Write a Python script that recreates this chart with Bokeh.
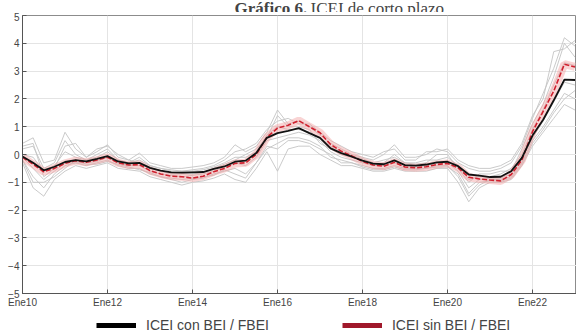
from bokeh.plotting import figure
from bokeh.layouts import column
from bokeh.models import Range1d, FixedTicker, Label, Legend, LegendItem
from bokeh.embed import file_html
from bokeh.resources import INLINE

# Quarterly observations, Jan 2010 - Jan 2023
fechas = [f"{a}-{m:02d}" for a in range(2010, 2023) for m in (1, 4, 7, 10)] + ["2023-01"]

# ICEI including BEI / FBEI
icei_con = [-0.07, -0.30, -0.57, -0.44, -0.27, -0.20, -0.25, -0.16, -0.06, -0.25,
            -0.32, -0.30, -0.48, -0.58, -0.64, -0.65, -0.64, -0.63, -0.52, -0.43,
            -0.26, -0.22, 0.05, 0.60, 0.77, 0.85, 0.95, 0.77, 0.60, 0.22,
            0.05, -0.08, -0.22, -0.33, -0.35, -0.21, -0.38, -0.40, -0.36, -0.28,
            -0.26, -0.42, -0.72, -0.76, -0.81, -0.80, -0.60, -0.12, 0.68, 1.25,
            1.95, 2.69, 2.68]

# ICEI excluding BEI / FBEI
icei_sin = [-0.10, -0.35, -0.62, -0.50, -0.32, -0.22, -0.28, -0.20, -0.10, -0.30,
            -0.38, -0.36, -0.58, -0.70, -0.78, -0.80, -0.85, -0.78, -0.62, -0.50,
            -0.32, -0.30, 0.00, 0.62, 0.95, 1.05, 1.22, 1.00, 0.78, 0.36,
            0.12, -0.05, -0.25, -0.38, -0.42, -0.28, -0.45, -0.48, -0.44, -0.36,
            -0.32, -0.48, -0.82, -0.88, -0.92, -0.95, -0.72, -0.20, 0.82, 1.55,
            2.28, 3.25, 3.15]

# Individual indicators
ind_1 = [0.4, 0.6, -0.3, -0.2, 0.8, 0.2, -0.1, 0.1, 0.35, -0.1, -0.2, 0.05, -0.3,
         -0.4, -0.5, -0.5, -0.45, -0.4, -0.3, -0.1, 0.35, 0.1, 0.3, 0.8, 1.6, 1.1,
         1.2, 1.0, 0.7, 0.4, 0.2, 0.0, -0.1, -0.2, 0.0, 0.35, -0.1, -0.1, 0.0, 0.2,
         0.1, -0.3, -0.5, -0.6, -0.6, -0.5, -0.3, 0.3, 1.3, 2.2, 3.1, 4.2, 3.9]
ind_2 = [-0.3, -1.2, -1.5, -0.9, -0.6, -0.4, -0.5, -0.4, -0.3, -0.5, -0.55, -0.6,
         -0.8, -0.9, -1.0, -1.1, -1.0, -0.95, -0.85, -0.7, -0.9, -1.0, -0.5, 0.1,
         -0.6, 0.2, 0.3, 0.3, 0.0, -0.2, -0.4, -0.4, -0.5, -0.6, -0.6, -0.5, -0.6,
         -0.6, -0.6, -0.5, -0.5, -1.0, -1.7, -1.2, -1.0, -1.0, -0.9, -0.4, 0.3, 0.8,
         1.3, 1.8, 1.6]
ind_3 = [0.2, 0.3, -0.5, -0.3, 0.5, 0.0, -0.2, 0.0, 0.2, -0.2, -0.3, -0.1, -0.4,
         -0.5, -0.55, -0.6, -0.55, -0.5, -0.4, -0.2, 0.1, 0.2, 0.4, 0.9, 1.2, 1.3,
         1.1, 1.1, 0.8, 0.5, 0.3, 0.1, 0.0, -0.1, 0.1, 0.2, -0.2, -0.2, 0.1, 0.1,
         0.2, -0.2, -0.4, -0.5, -0.5, -0.4, -0.2, 0.4, 1.4, 2.0, 3.7, 3.8, 4.1]
ind_4 = [-0.2, -0.8, -1.2, -0.7, -0.4, -0.3, -0.4, -0.3, -0.2, -0.4, -0.5, -0.5,
         -0.7, -0.8, -0.9, -1.0, -0.9, -0.85, -0.7, -0.6, -0.5, -0.7, -0.3, 0.3,
         0.2, 0.5, 0.5, 0.4, 0.2, 0.0, -0.3, -0.3, -0.4, -0.5, -0.5, -0.4, -0.5,
         -0.5, -0.5, -0.4, -0.4, -0.8, -1.5, -1.1, -0.9, -0.9, -0.8, -0.3, 0.5, 1.0,
         1.6, 2.2, 2.0]
ind_5 = [0.0, -0.1, -0.6, -0.4, 0.1, -0.1, -0.2, -0.1, 0.1, -0.2, -0.3, -0.2, -0.4,
         -0.5, -0.6, -0.6, -0.6, -0.55, -0.45, -0.3, -0.1, -0.1, 0.1, 0.7, 1.0, 0.9,
         0.9, 0.8, 0.6, 0.3, 0.1, -0.05, -0.15, -0.3, -0.2, -0.1, -0.3, -0.3, -0.2,
         -0.2, -0.1, -0.4, -0.9, -0.8, -0.8, -0.7, -0.5, 0.0, 0.9, 1.6, 2.5, 3.3, 3.2]
ind_6 = [-0.1, -0.5, -0.9, -0.6, -0.3, -0.3, -0.3, -0.25, -0.1, -0.3, -0.4, -0.4,
         -0.6, -0.7, -0.75, -0.8, -0.75, -0.7, -0.6, -0.45, -0.3, -0.4, -0.1, 0.5,
         0.6, 0.7, 0.8, 0.7, 0.5, 0.1, -0.1, -0.2, -0.3, -0.4, -0.4, -0.3, -0.45,
         -0.45, -0.4, -0.3, -0.3, -0.6, -1.2, -0.9, -0.85, -0.85, -0.7, -0.2, 0.6,
         1.2, 1.9, 2.6, 2.5]
ind_7 = [0.3, 0.4, -0.8, -0.5, 0.3, 0.4, -0.1, 0.2, 0.3, 0.0, -0.2, -0.3, -0.5,
         -0.6, -0.7, -0.7, -0.7, -0.65, -0.5, -0.35, -0.2, 0.0, 0.2, 0.6, 1.4, 1.0,
         1.0, 0.9, 0.4, 0.2, 0.0, -0.1, -0.2, -0.4, -0.3, 0.0, -0.3, -0.35, -0.3,
         0.0, 0.0, -0.5, -1.0, -0.7, -0.7, -0.6, -0.6, 0.2, 1.1, 1.8, 2.8, 4.0, 3.5]
ind_8 = [-0.2, -1.0, -1.0, -0.8, -0.5, -0.2, -0.35, -0.35, -0.25, -0.35, -0.45,
         -0.55, -0.65, -0.8, -0.85, -0.9, -0.85, -0.8, -0.75, -0.55, -0.7, -0.85,
         -0.3, 0.2, 0.4, 0.6, 0.6, 0.5, 0.3, -0.1, -0.2, -0.3, -0.45, -0.55, -0.55,
         -0.45, -0.55, -0.55, -0.5, -0.45, -0.45, -0.7, -1.4, -1.0, -0.95, -0.95,
         -0.85, -0.35, 0.4, 0.9, 1.5, 2.0, 2.3]
indicadores = [ind_1, ind_2, ind_3, ind_4, ind_5, ind_6, ind_7, ind_8]

tick_anios = [2010, 2012, 2014, 2016, 2018, 2020, 2022]
tick_etiquetas = ["Ene10", "Ene12", "Ene14", "Ene16", "Ene18", "Ene20", "Ene22"]
y_ticks = [-5, -4, -3, -2, -1, 0, 1, 2, 3, 4, 5]

t = [int(f[:4]) + (int(f[5:]) - 1) / 12 for f in fechas]


def panel(height):
    f = figure(width=576, height=height, output_backend="svg", toolbar_location=None,
               x_range=Range1d(0, 1), y_range=Range1d(0, 1),
               x_axis_location=None, y_axis_location=None, min_border=0)
    f.grid.visible = False
    f.outline_line_color = None
    return f


# title strip
cab = panel(12)
cab.add_layout(Label(x=212, y=4, x_units="screen", y_units="screen",
                     text="Gráfico 6.", text_font="Liberation Serif",
                     text_font_size="17px", text_font_style="bold",
                     text_baseline="alphabetic"))
cab.add_layout(Label(x=288, y=4, x_units="screen", y_units="screen",
                     text="ICEI de corto plazo", text_font="Liberation Serif",
                     text_font_size="17px", text_baseline="alphabetic"))

# main chart
p = figure(width=576, height=300, output_backend="svg", toolbar_location=None,
           x_range=Range1d(2010, 2023.035), y_range=Range1d(-5, 5),
           min_border_left=22, min_border_right=0, min_border_top=3,
           min_border_bottom=19)
p.background_fill_color = "white"
p.border_fill_color = "white"
p.outline_line_color = "#8c8c8c"
p.outline_line_width = 1

p.xgrid.ticker = FixedTicker(ticks=tick_anios)
p.ygrid.ticker = FixedTicker(ticks=y_ticks)
p.xgrid.grid_line_color = "#e4e4e4"
p.ygrid.grid_line_color = "#e4e4e4"

xa = p.xaxis[0]
xa.ticker = FixedTicker(ticks=tick_anios)
xa.major_label_overrides = {a: e for a, e in zip(tick_anios, tick_etiquetas)}
xa.major_tick_in = 4
xa.major_tick_out = 0
xa.minor_tick_line_color = None
xa.axis_line_color = "#555555"
xa.major_tick_line_color = "#555555"
xa.major_label_text_font = "Liberation Sans"
xa.major_label_text_font_size = "10px"
xa.major_label_text_color = "#444444"
xa.major_label_standoff = 3

ya = p.yaxis[0]
ya.ticker = FixedTicker(ticks=y_ticks)
ya.major_tick_in = 4
ya.major_tick_out = 0
ya.minor_tick_line_color = None
ya.axis_line_color = "#555555"
ya.major_tick_line_color = "#555555"
ya.major_label_text_font = "Liberation Sans"
ya.major_label_text_font_size = "10px"
ya.major_label_text_color = "#444444"
ya.major_label_standoff = 3

for serie in indicadores:
    p.line(t, serie, line_color="#c4c4c4", line_width=0.9)

# shaded band and dashed line for the index without BEI / FBEI
p.line(t, icei_sin, line_color="#f2a0a0", line_width=8, line_alpha=0.45)
p.line(t, icei_sin, line_color="#d0202e", line_width=1.6, line_dash="5 2")
p.line(t, icei_con, line_color="#111111", line_width=1.8)

# legend strip: legend-only renderers (no visible points)
nan = float("nan")
pie = panel(23)
r_con = pie.line([nan], [nan], line_color="black", line_width=5)
r_sin = pie.line([nan], [nan], line_color="#a0182b", line_width=5)
leyenda = Legend(items=[LegendItem(label="ICEI con BEI / FBEI", renderers=[r_con]),
                        LegendItem(label="ICEI sin BEI / FBEI", renderers=[r_sin])],
                 orientation="horizontal", location=(74, 2),
                 glyph_width=40, glyph_height=14, label_standoff=10, spacing=73,
                 padding=0, margin=0, border_line_color=None,
                 background_fill_alpha=0, label_text_font="Liberation Sans",
                 label_text_font_size="14px", label_height=14)
pie.add_layout(leyenda)

open("out.html", "w").write(file_html(column(cab, p, pie, spacing=0), INLINE))
